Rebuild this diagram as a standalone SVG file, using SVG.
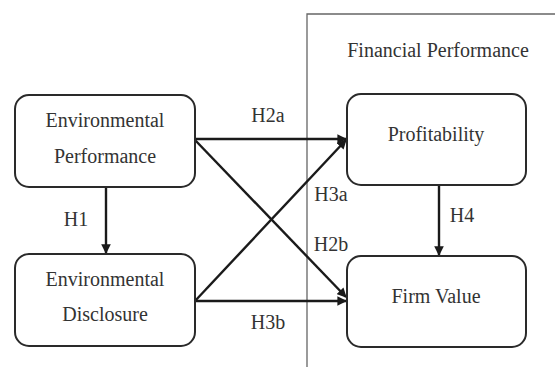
<svg xmlns="http://www.w3.org/2000/svg" width="555" height="367" viewBox="0 0 555 367">
<style>
.box{fill:#fff;stroke:#2a2a2a;stroke-width:2}
.t{font-family:'Liberation Serif','Times New Roman',serif;font-size:20px;fill:#333;text-anchor:middle}
.c{stroke:#1a1a1a;stroke-width:2.4;fill:none;marker-end:url(#ah)}
.frame{stroke:#666;stroke-width:1.3;fill:none}
</style>
<defs>
<marker id="ah" viewBox="0 0 10 10" refX="9" refY="5" markerWidth="4" markerHeight="4" orient="auto" markerUnits="strokeWidth">
<path d="M0,0 L10,5 L0,10 z" fill="#1a1a1a"/>
</marker>
</defs>
<rect width="555" height="367" fill="#fff"/>
<g id="frame">
<path class="frame" d="M307,367 V14 H555"/>
<text class="t" x="438" y="57">Financial Performance</text>
</g>
<g id="connectors">
<line class="c" x1="106" y1="187" x2="106" y2="253"/>
<line class="c" x1="439" y1="185" x2="439" y2="255"/>
<line class="c" x1="195" y1="139" x2="346" y2="139"/>
<line class="c" x1="195" y1="140" x2="346" y2="297"/>
<line class="c" x1="195" y1="301" x2="346" y2="140"/>
<line class="c" x1="195" y1="301" x2="346" y2="301"/>
<text class="t" x="268" y="122">H2a</text>
<text class="t" x="331" y="201">H3a</text>
<text class="t" x="331" y="251">H2b</text>
<text class="t" x="268" y="329">H3b</text>
<text class="t" x="76" y="226">H1</text>
<text class="t" x="462" y="222">H4</text>
</g>
<g id="env-performance">
<rect class="box" x="15" y="95" width="180" height="92" rx="14"/>
<text class="t" x="105" y="127">Environmental</text>
<text class="t" x="105" y="163">Performance</text>
</g>
<g id="env-disclosure">
<rect class="box" x="15" y="254" width="180" height="92" rx="14"/>
<text class="t" x="105" y="286">Environmental</text>
<text class="t" x="105" y="321">Disclosure</text>
</g>
<g id="profitability">
<rect class="box" x="347" y="94" width="179" height="91" rx="14"/>
<text class="t" x="436" y="141">Profitability</text>
</g>
<g id="firm-value">
<rect class="box" x="347" y="256" width="179" height="91" rx="14"/>
<text class="t" x="436" y="303">Firm Value</text>
</g>
</svg>
